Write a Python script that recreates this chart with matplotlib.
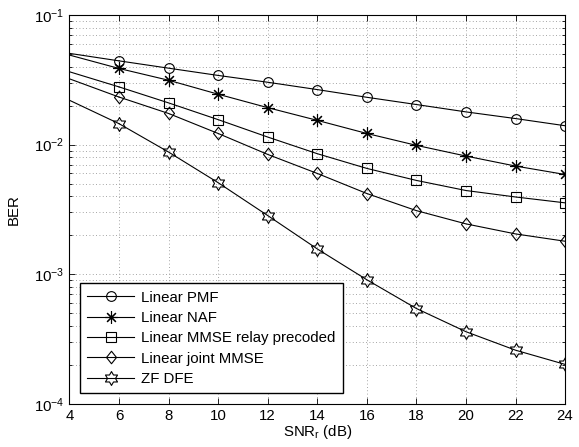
import numpy as np
import matplotlib
matplotlib.use("Agg")
import matplotlib.pyplot as plt
from matplotlib.path import Path
from matplotlib.ticker import LogLocator, FixedLocator, NullFormatter

plt.rcParams['font.family'] = ['Liberation Sans', 'DejaVu Sans']
plt.rcParams['mathtext.default'] = 'regular'

snr = [4, 6, 8, 10, 12, 14, 16, 18, 20, 22, 24]
ber_pmf = [0.0506, 0.0443, 0.0389, 0.0342, 0.0303, 0.0266, 0.0232, 0.0204, 0.0179, 0.0159, 0.0140]
ber_naf = [0.0491, 0.0387, 0.0314, 0.0245, 0.0193, 0.0154, 0.0122, 0.00988, 0.00817, 0.00684, 0.00589]
ber_mmse_relay = [0.0365, 0.0279, 0.0210, 0.0156, 0.01145, 0.00852, 0.00656, 0.00530, 0.00443, 0.00395, 0.00356]
ber_joint_mmse = [0.0322, 0.0233, 0.0174, 0.0122, 0.00841, 0.00600, 0.00420, 0.00310, 0.00245, 0.00205, 0.00180]
ber_zf_dfe = [0.0220, 0.01452, 0.00877, 0.00509, 0.00284, 0.00157, 0.000908, 0.000545, 0.000361, 0.000260, 0.000202]

labels = ['Linear PMF', 'Linear NAF', 'Linear MMSE relay precoded', 'Linear joint MMSE', 'ZF DFE']

hexagram = Path.unit_regular_star(6, 1 / np.sqrt(3))
diamond = Path([(0, 1), (0.8, 0), (0, -1), (-0.8, 0), (0, 1)],
               [Path.MOVETO, Path.LINETO, Path.LINETO, Path.LINETO, Path.CLOSEPOLY])
markers = ['o', (8, 2, 0), 's', diamond, hexagram]
msizes = [7, 9, 6.5, 9, 10]
series = [ber_pmf, ber_naf, ber_mmse_relay, ber_joint_mmse, ber_zf_dfe]

fs = 10.8
fig = plt.figure(figsize=(5.79, 4.47), dpi=100)
ax = fig.add_axes([0.12, 0.0962, 0.856, 0.8702])

for ys, m, ms, lab in zip(series, markers, msizes, labels):
    ax.plot(snr[:2], ys[:2], color='k', lw=0.8)
    ax.plot(snr[1:], ys[1:], color='k', lw=0.8, marker=m, markersize=ms,
            markerfacecolor='none', markeredgecolor='k', markeredgewidth=0.8, label=lab)

ax.set_yscale('log')
ax.set_xlim(4, 24)
ax.set_ylim(1e-4, 1e-1)
ax.xaxis.set_major_locator(FixedLocator(np.arange(4, 25, 2)))
ax.yaxis.set_major_locator(LogLocator(base=10, numticks=10))
ax.yaxis.set_minor_locator(LogLocator(base=10, subs=np.arange(2, 10), numticks=20))
ax.yaxis.set_minor_formatter(NullFormatter())

ax.grid(True, which='major', linestyle=(0, (1, 3)), color='#888888', lw=0.6)
ax.grid(True, which='minor', axis='y', linestyle=(0, (1, 3)), color='#888888', lw=0.6)
ax.tick_params(which='both', direction='in', top=True, right=True, labelsize=fs, width=0.6)
ax.tick_params(which='major', length=4)
ax.tick_params(which='minor', length=2.5)
for s in ax.spines.values():
    s.set_linewidth(0.8)

ax.set_xlabel('SNR$_{r}$ (dB)', fontsize=fs, labelpad=0)
ax.set_ylabel('BER', fontsize=fs, labelpad=10)

leg = ax.legend(loc='lower left', bbox_to_anchor=(0.021, 0.0275), fontsize=fs,
                numpoints=1, handlelength=3.1, fancybox=False, framealpha=1,
                edgecolor='k', borderaxespad=0, labelspacing=0.42, handletextpad=0.5,
                borderpad=0.5)
leg.get_frame().set_linewidth(1.0)

fig.savefig('out.png', dpi=100)
